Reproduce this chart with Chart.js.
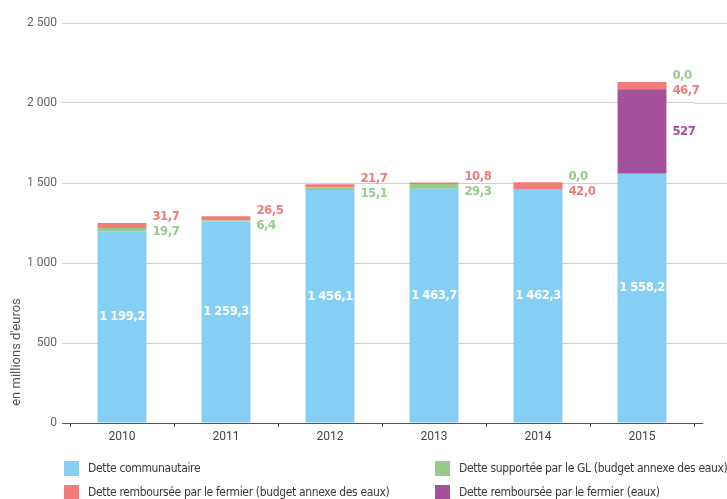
<!DOCTYPE html>
<html>
<head>
<meta charset="utf-8">
<script src="https://cdn.jsdelivr.net/npm/chart.js@4.4.1/dist/chart.umd.min.js"></script>
<style>
  html, body { margin: 0; padding: 0; background: #fff; }
  #wrap { position: relative; width: 727px; height: 499px; }
  #chart { position: absolute; left: 0; top: 0; }
  .leg { position: absolute; display: flex; align-items: center; height: 16px;
         font-family: "DejaVu Sans Condensed", sans-serif;
         font-size: 12px; letter-spacing: -0.35px; color: #3a3a3a; white-space: nowrap; }
  .leg span.sw { display: inline-block; width: 15px; height: 15px; margin-right: 9px; }
</style>
</head>
<body>
<div id="wrap">
  <canvas id="chart" width="727" height="499"></canvas>
  <div class="leg" style="left:64px; top:460px;"><span class="sw" style="background:#85cef4"></span>Dette communautaire</div>
  <div class="leg" style="left:64px; top:484px;"><span class="sw" style="background:#f07c7a"></span>Dette remboursée par le fermier (budget annexe des eaux)</div>
  <div class="leg" style="left:435px; top:460px;"><span class="sw" style="background:#97cb8c"></span>Dette supportée par le GL (budget annexe des eaux)</div>
  <div class="leg" style="left:435px; top:484px;"><span class="sw" style="background:#a4519b"></span>Dette remboursée par le fermier (eaux)</div>
</div>
<script>
// dette par année, en millions d'euros
var years = ['2010', '2011', '2012', '2013', '2014', '2015'];
var detteCommunautaire = [1199.2, 1259.3, 1456.1, 1463.7, 1462.3, 1558.2];
var detteGL = [19.7, 6.4, 15.1, 29.3, 0.0, 0.0];
var detteFermierEaux = [null, null, null, null, null, 527];
var detteFermierBudget = [31.7, 26.5, 21.7, 10.8, 42.0, 46.7];
var yTicks = [0, 500, 1000, 1500, 2000, 2500];

var BLUE = '#85cef4', GREEN = '#97cb8c', PURPLE = '#a4519b', RED = '#f07c7a';

function fmt(v, dec) {
    var s = v.toFixed(dec).split('.');
    var ent = s[0].replace(/\B(?=(\d{3})+(?!\d))/g, ' ');
    return s.length > 1 ? ent + ',' + s[1] : ent;
}

// étiquettes de valeurs (dans la barre bleue, à droite pour les autres)
var valueLabels = {
    id: 'valueLabels',
    afterDatasetsDraw: function(chart) {
        var ctx = chart.ctx;
        var mBlue = chart.getDatasetMeta(0);
        var mPurple = chart.getDatasetMeta(2);
        var mRed = chart.getDatasetMeta(3);
        ctx.save();
        ctx.font = 'bold 13px "DejaVu Sans Condensed", sans-serif';
        ctx.letterSpacing = '-0.5px';
        ctx.textBaseline = 'middle';
        for (var i = 0; i < years.length; i++) {
            var b = mBlue.data[i];
            ctx.textAlign = 'center';
            ctx.fillStyle = '#ffffff';
            ctx.fillText(fmt(detteCommunautaire[i], 1), b.x, (b.y + b.base) / 2 - 10);

            var xs = b.x + b.width / 2 + 6;
            var top = mRed.data[i].y;
            ctx.textAlign = 'left';
            var upper, lower;
            if (detteGL[i] === 0) {
                upper = [fmt(detteGL[i], 1), GREEN];
                lower = [fmt(detteFermierBudget[i], 1), RED];
            } else {
                upper = [fmt(detteFermierBudget[i], 1), RED];
                lower = [fmt(detteGL[i], 1), GREEN];
            }
            ctx.fillStyle = upper[1];
            ctx.fillText(upper[0], xs, top - 6);
            ctx.fillStyle = lower[1];
            ctx.fillText(lower[0], xs, top + 9);

            if (detteFermierEaux[i] != null) {
                var p = mPurple.data[i];
                ctx.fillStyle = PURPLE;
                ctx.fillText(fmt(detteFermierEaux[i], 0), xs, (p.y + p.base) / 2);
            }
        }
        ctx.restore();
    }
};

// lignes de grille prolongées à droite, axe horizontal, titre vertical
var axisExtras = {
    id: 'axisExtras',
    beforeDatasetsDraw: function(chart) {
        var ctx = chart.ctx, a = chart.chartArea, ys = chart.scales.y;
        ctx.save();
        ctx.strokeStyle = '#d0d0d0';
        ctx.lineWidth = 1;
        yTicks.forEach(function(t) {
            if (t === 0) return;
            var py = Math.round(ys.getPixelForValue(t)) + 0.5;
            ctx.beginPath();
            ctx.moveTo(a.right, py);
            ctx.lineTo(chart.width, py);
            ctx.stroke();
        });
        ctx.restore();
    },
    afterDatasetsDraw: function(chart) {
        var ctx = chart.ctx, a = chart.chartArea, ys = chart.scales.y;
        ctx.save();
        var py = Math.round(ys.getPixelForValue(0)) + 0.5;
        ctx.strokeStyle = '#555';
        ctx.lineWidth = 1.2;
        ctx.beginPath();
        ctx.moveTo(a.left - 8, py);
        ctx.lineTo(a.right + 9, py);
        ctx.stroke();
        ctx.translate(17, 352);
        ctx.rotate(-Math.PI / 2);
        ctx.font = '13px Roboto, sans-serif';
        ctx.fillStyle = '#555';
        ctx.textAlign = 'center';
        ctx.textBaseline = 'middle';
        ctx.fillText("en millions d'euros", 0, 0);
        ctx.restore();
    }
};

var ctx = document.getElementById('chart').getContext('2d');
var chart = new Chart(ctx, {
    type: 'bar',
    data: {
        labels: years,
        datasets: [
            { label: 'Dette communautaire', data: detteCommunautaire, backgroundColor: BLUE },
            { label: 'Dette supportée par le GL (budget annexe des eaux)', data: detteGL, backgroundColor: GREEN },
            { label: 'Dette remboursée par le fermier (eaux)', data: detteFermierEaux, backgroundColor: PURPLE },
            { label: 'Dette remboursée par le fermier (budget annexe des eaux)', data: detteFermierBudget, backgroundColor: RED }
        ]
    },
    options: {
        responsive: false,
        animation: false,
        categoryPercentage: 1,
        barPercentage: 0.47,
        layout: { padding: { top: 23, right: 33, left: 0, bottom: 0 } },
        plugins: {
            legend: { display: false },
            tooltip: { enabled: false }
        },
        scales: {
            x: {
                stacked: true,
                afterFit: function(scale) { scale.height = 76; },
                grid: { drawOnChartArea: false, drawTicks: true, tickLength: 4, color: '#555', lineWidth: 1 },
                border: { display: false },
                ticks: { color: '#444', font: { family: 'Roboto', size: 12 }, padding: 3 }
            },
            y: {
                stacked: true,
                min: 0,
                max: 2500,
                afterFit: function(scale) { scale.width = 70; },
                afterBuildTicks: function(scale) {
                    scale.ticks = yTicks.map(function(v) { return { value: v }; });
                },
                grid: { color: '#d0d0d0', lineWidth: 1, tickLength: 8, drawTicks: true },
                border: { display: false },
                ticks: {
                    color: '#666',
                    padding: 5,
                    font: { family: 'Roboto', size: 12 },
                    callback: function(v) { return fmt(v, 0); }
                }
            }
        }
    },
    plugins: [axisExtras, valueLabels]
});
</script>
</body>
</html>
